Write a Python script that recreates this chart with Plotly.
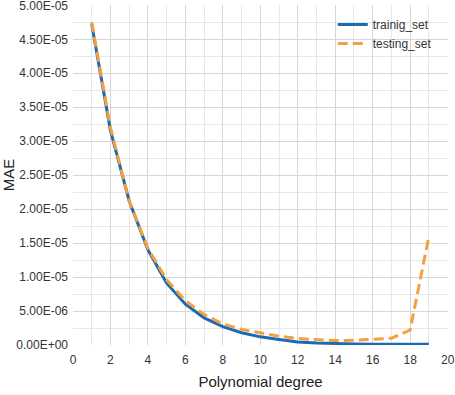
import plotly.graph_objects as go

degrees = list(range(1, 20))
training_mae = [4.72e-05, 3.16e-05, 2.12e-05, 1.40e-05, 9.1e-06, 6.0e-06, 4.0e-06, 2.7e-06,
                1.8e-06, 1.2e-06, 0.8e-06, 0.45e-06, 0.3e-06, 0.2e-06, 0.15e-06, 0.12e-06,
                0.1e-06, 0.1e-06, 0.1e-06]
testing_mae = [4.75e-05, 3.2e-05, 2.12e-05, 1.42e-05, 9.6e-06, 6.5e-06, 4.5e-06, 3.1e-06,
               2.3e-06, 1.8e-06, 1.3e-06, 0.95e-06, 0.75e-06, 0.65e-06, 0.7e-06, 0.8e-06,
               1.0e-06, 2.2e-06, 1.6e-05]
y_tickvals = [0, 5e-06, 1e-05, 1.5e-05, 2e-05, 2.5e-05, 3e-05, 3.5e-05, 4e-05, 4.5e-05, 5e-05]
y_ticktext = ["0.00E+00", "5.00E-06", "1.00E-05", "1.50E-05", "2.00E-05", "2.50E-05",
              "3.00E-05", "3.50E-05", "4.00E-05", "4.50E-05", "5.00E-05"]

fig = go.Figure()
fig.add_trace(go.Scatter(x=degrees, y=training_mae, name="trainig_set", mode="lines",
                         line=dict(color="#1a6bb5", width=3)))
fig.add_trace(go.Scatter(x=degrees, y=testing_mae, name="testing_set", mode="lines",
                         line=dict(color="#f5a03e", width=3, dash="10px,5px")))

grid = "#d6d6d6"
minor_grid = "#e8e8e8"
fig.update_layout(
    width=455, height=395,
    margin=dict(l=73, r=7, t=5, b=50),
    plot_bgcolor="white", paper_bgcolor="white",
    font=dict(family="Liberation Sans, Arial, sans-serif", size=12, color="#333333"),
    legend=dict(x=0.97, y=0.985, xanchor="right", yanchor="top", bgcolor="rgba(0,0,0,0)",
                font=dict(size=12, color="#333333"), tracegroupgap=0),
    xaxis=dict(range=[0, 20.02], dtick=2, tick0=0, showgrid=True, gridcolor=grid, zeroline=False,
               minor=dict(dtick=1, showgrid=True, gridcolor=minor_grid),
               ticks="", ticklabelstandoff=6, automargin=False, ticklabeloverflow="allow",
               title=dict(text="Polynomial degree", font=dict(size=15, color="#222222"), standoff=10)),
    yaxis=dict(range=[0, 5.005e-05], tickvals=y_tickvals, ticktext=y_ticktext, showgrid=True,
               gridcolor=grid, zeroline=False,
               minor=dict(dtick=2.5e-06, showgrid=True, gridcolor=minor_grid),
               ticks="", ticklabelstandoff=4, automargin=False, ticklabeloverflow="allow",
               title=dict(text="MAE", font=dict(size=15, color="#222222"), standoff=4)),
)
fig.write_html("out.html", config={"displayModeBar": False},
               post_script="document.body.style.margin='0';")
